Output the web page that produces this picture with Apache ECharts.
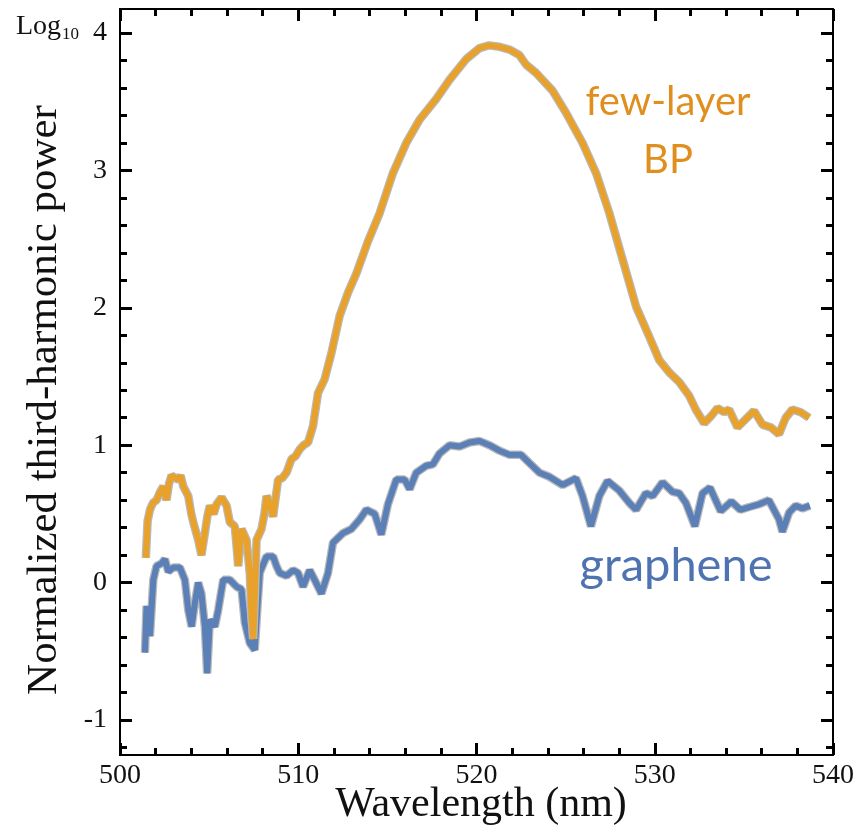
<!DOCTYPE html>
<html>
<head>
<meta charset="utf-8">
<script src="https://cdn.jsdelivr.net/npm/echarts@6/dist/echarts.min.js"></script>
<style>
html,body{margin:0;padding:0;background:#fff;}
#chart{width:864px;height:834px;}
</style>
</head>
<body>
<div id="chart"></div>
<script>
// ---- data ----
const wavelengthBP = [501.45,501.55,501.68,501.85,502.05,502.25,502.43,502.61,502.75,502.89,503.1,503.27,503.4,503.55,503.83,504.0,504.11,504.39,504.57,504.76,504.9,505.04,505.25,505.42,505.70,505.98,506.16,506.44,506.55,506.63,506.82,507.10,507.28,507.38,507.47,507.58,507.66,507.94,508.1,508.22,508.4,508.59,508.87,509.1,509.34,509.62,509.85,510.08,510.3,510.55,510.83,511.11,511.48,511.86,512.32,512.79,513.26,513.9,514.57,515.31,516.06,516.81,517.74,518.49,519.42,520.17,520.7,521.29,521.85,522.4,522.78,523.34,524.27,525.02,525.95,526.71,527.45,528.20,528.95,529.69,530.25,530.81,531.37,531.93,532.30,532.77,533.15,533.52,533.89,534.17,534.64,535.11,535.57,536.04,536.51,536.97,537.35,537.72,538.19,538.66];
const powerBP = [0.18,0.45,0.53,0.58,0.60,0.66,0.70,0.60,0.72,0.78,0.76,0.75,0.78,0.70,0.63,0.50,0.44,0.31,0.20,0.36,0.48,0.56,0.50,0.57,0.62,0.56,0.44,0.41,0.25,0.12,0.39,0.31,0.07,-0.25,-0.41,-0.05,0.31,0.39,0.50,0.63,0.58,0.48,0.75,0.76,0.80,0.90,0.92,0.97,1.00,1.02,1.14,1.38,1.48,1.67,1.94,2.11,2.25,2.48,2.69,2.98,3.20,3.37,3.52,3.66,3.81,3.89,3.91,3.90,3.88,3.84,3.77,3.71,3.58,3.42,3.20,2.98,2.69,2.35,2.01,1.79,1.62,1.53,1.46,1.36,1.26,1.16,1.21,1.27,1.24,1.26,1.13,1.19,1.25,1.15,1.13,1.08,1.20,1.26,1.24,1.20];
const wavelengthGr = [501.40,501.49,501.60,501.68,501.87,502.05,502.33,502.52,502.71,502.99,503.36,503.64,503.83,504.02,504.20,504.39,504.57,504.76,504.89,505.04,505.32,505.51,505.79,506.16,506.54,506.82,507.00,507.28,507.56,507.70,507.84,508.22,508.59,508.78,508.96,509.34,509.71,509.99,510.27,510.64,510.92,511.30,511.67,511.95,512.51,512.98,513.45,513.82,514.29,514.66,515.03,515.50,515.97,516.25,516.62,517.18,517.55,517.93,518.49,519.05,519.61,520.17,520.73,521.29,521.85,522.50,522.97,523.53,524.09,524.83,525.58,525.95,526.42,526.89,527.35,528.01,528.57,528.95,529.50,529.88,530.44,531.00,531.37,531.75,532.25,532.68,533.10,533.70,534.30,534.80,535.30,535.85,536.40,536.97,537.16,537.54,537.91,538.28,538.70];
const powerGr = [-0.51,-0.17,-0.30,-0.39,0.02,0.12,0.14,0.17,0.08,0.11,0.11,0.02,-0.20,-0.32,-0.15,0.00,-0.08,-0.32,-0.66,-0.27,-0.32,-0.20,0.02,0.02,-0.03,-0.05,-0.29,-0.44,-0.49,-0.20,0.07,0.19,0.19,0.12,0.07,0.05,0.09,0.07,-0.03,0.09,0.02,-0.08,0.07,0.29,0.36,0.39,0.46,0.53,0.50,0.35,0.57,0.75,0.75,0.68,0.80,0.85,0.86,0.94,1.00,0.99,1.02,1.03,1.00,0.96,0.93,0.93,0.87,0.80,0.77,0.71,0.76,0.63,0.41,0.63,0.74,0.67,0.58,0.53,0.65,0.63,0.73,0.66,0.65,0.58,0.41,0.65,0.69,0.52,0.59,0.53,0.55,0.57,0.60,0.46,0.37,0.51,0.56,0.54,0.56];
const yMajorTicks = [-1,0,1,2,3,4];
const yMinorTicks = [-1.2,-0.8,-0.6,-0.4,-0.2,0.2,0.4,0.6,0.8,1.2,1.4,1.6,1.8,2.2,2.4,2.6,2.8,3.2,3.4,3.6,3.8,4.2];
const seriesNames = ['few-layer BP','graphene'];

const pairs = (xs, ys) => xs.map((x, i) => [x, ys[i]]);
const SERIF = "'Liberation Serif', 'DejaVu Serif', serif";
const orange = '#E8A12A';
const blue = '#5B7FB7';
const halo = '#b9b9b9';

const yRange = {min: -1.255, max: 4.175};
function yAx(pos, ticks, len, labels) {
  return {
    type: 'value', position: pos, min: yRange.min, max: yRange.max,
    axisLine: {show: true, lineStyle: {color: '#000', width: 2}},
    axisTick: {show: true, inside: true, length: len, customValues: ticks, lineStyle: {color: '#000', width: 3}},
    axisLabel: labels ? {show: true, customValues: yMajorTicks, fontFamily: SERIF, fontSize: 28, color: '#111', margin: 13} : {show: false},
    splitLine: {show: false}
  };
}
function xAx(pos, labels) {
  return {
    type: 'value', position: pos, min: 500, max: 540, interval: 10,
    axisLine: {show: true, onZero: false, lineStyle: {color: '#000', width: 2}},
    axisTick: {show: true, inside: true, length: 12, lineStyle: {color: '#000', width: 3}},
    minorTick: {show: true, splitNumber: 5, length: 7, lineStyle: {color: '#000', width: 3}},
    axisLabel: labels ? {show: true, fontFamily: SERIF, fontSize: 28, color: '#111', margin: 7} : {show: false},
    splitLine: {show: false}
  };
}

const chart = echarts.init(document.getElementById('chart'), null, {renderer: 'canvas'});
const bp = pairs(wavelengthBP, powerBP);
const gr = pairs(wavelengthGr, powerGr);
chart.setOption({
  animation: false,
  backgroundColor: '#fff',
  grid: {left: 120, right: 31, top: 9, bottom: 79},
  xAxis: [xAx('bottom', true), xAx('top', false)],
  yAxis: [yAx('left', yMajorTicks, 12, true), yAx('right', yMajorTicks, 12, false), yAx('left', yMinorTicks, 7, false), yAx('right', yMinorTicks, 7, false)],
  series: [
    {name: seriesNames[1] + ' halo', type: 'line', data: gr, showSymbol: false, lineStyle: {color: halo, width: 8.5}, z: 1},
    {name: seriesNames[1], type: 'line', data: gr, showSymbol: false, lineStyle: {color: blue, width: 6}, z: 2},
    {name: seriesNames[0] + ' halo', type: 'line', data: bp, showSymbol: false, lineStyle: {color: halo, width: 8.5}, z: 3},
    {name: seriesNames[0], type: 'line', data: bp, showSymbol: false, lineStyle: {color: orange, width: 6}, z: 4}
  ],
  graphic: [
    {type: 'text', left: 16, top: 13, style: {text: '{a|Log}{b|10}', rich: {a: {fontFamily: SERIF, fontSize: 28, fill: '#111'}, b: {fontFamily: SERIF, fontSize: 17, fill: '#111', padding: [16, 0, 0, 1]}}}},
    {type: 'text', x: 45, y: 400, rotation: Math.PI / 2, style: {text: 'Normalized third-harmonic power', fontFamily: SERIF, fontSize: 43, fill: '#111', align: 'center', verticalAlign: 'middle'}},
    {type: 'text', x: 481, y: 805, style: {text: 'Wavelength (nm)', fontFamily: SERIF, fontSize: 42, fill: '#111', align: 'center', verticalAlign: 'middle'}},
    {type: 'text', x: 668, y: 102, style: {text: 'few-layer', fontFamily: 'Lato, sans-serif', fontSize: 40, fill: '#E08F1F', align: 'center', verticalAlign: 'middle'}},
    {type: 'text', x: 668, y: 160, style: {text: 'BP', fontFamily: 'Lato, sans-serif', fontSize: 40, fill: '#E08F1F', align: 'center', verticalAlign: 'middle'}},
    {type: 'text', x: 676, y: 566, style: {text: 'graphene', fontFamily: 'Lato, sans-serif', fontSize: 47, fill: '#4F73B0', align: 'center', verticalAlign: 'middle'}}
  ]
});
</script>
</body>
</html>
